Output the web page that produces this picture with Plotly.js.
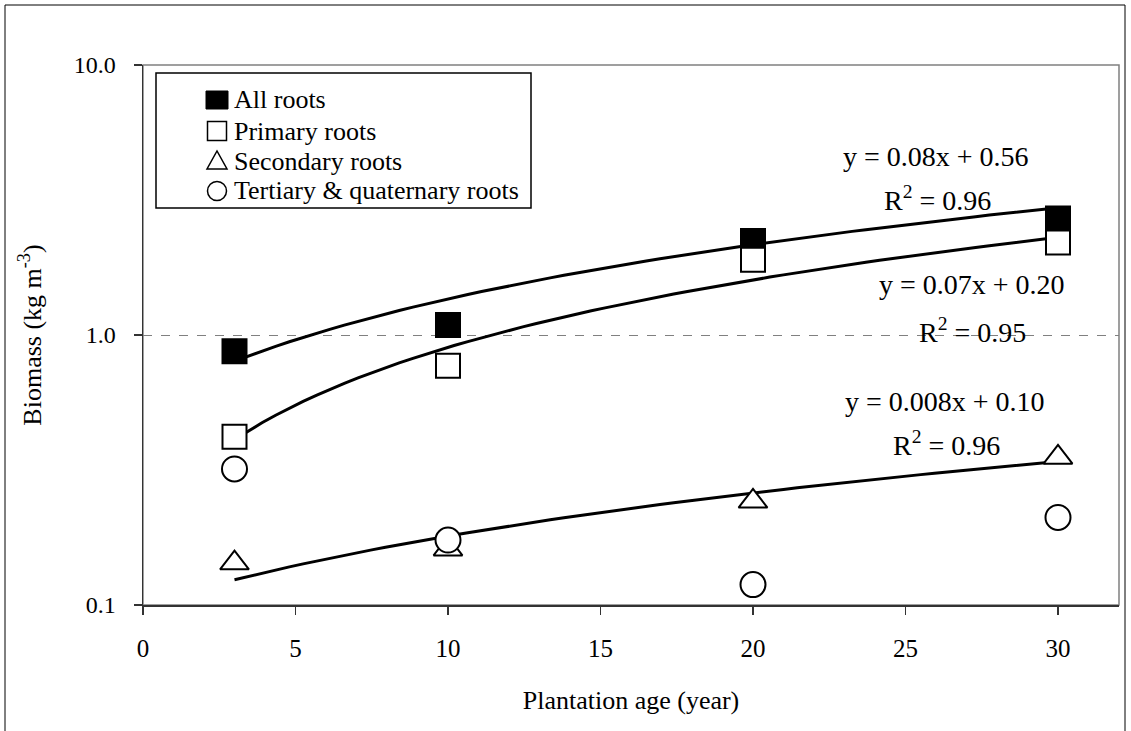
<!DOCTYPE html>
<html><head><meta charset="utf-8">
<script src="https://cdn.plot.ly/plotly-3.0.1.min.js"></script>
<style>html,body{margin:0;padding:0;background:#fff}#chart{width:1131px;height:731px}</style>
</head><body><div id="chart"></div>
<script>
// Data
const ages = [3, 10, 20, 30];
const allRoots = [0.87, 1.09, 2.23, 2.70];
const primaryRoots = [0.42, 0.77, 1.90, 2.20];
const secondaryRoots = [0.143, 0.161, 0.242, 0.352];
const tertiaryRoots = [0.319, 0.174, 0.119, 0.211];
const seriesNames = ["All roots", "Primary roots", "Secondary roots", "Tertiary &amp; quaternary roots"];

// Linear trendlines shown on the chart (y = a x + b)
const trendSlopes = [0.08, 0.07, 0.008];
const trendIntercepts = [0.56, 0.20, 0.10];
const trendR2 = [0.96, 0.95, 0.96];
const trendLabels = ["y = 0.08x + 0.56", "y = 0.07x + 0.20", "y = 0.008x + 0.10"];
const trendStart = 3, trendEnd = 30;

const xTicks = [0, 5, 10, 15, 20, 25, 30];
const yTicks = [0.1, 1, 10];
const yTickText = ["0.1", "1.0", "10.0"];

const FONT = "Liberation Serif";

function trendLine(a, b) {
  const xs = [], ys = [];
  const n = 60;
  for (let i = 0; i <= n; i++) {
    const x = trendStart + (trendEnd - trendStart) * i / n;
    xs.push(x); ys.push(a * x + b);
  }
  return {x: xs, y: ys};
}

const traces = [];
for (let k = 0; k < trendSlopes.length; k++) {
  const t = trendLine(trendSlopes[k], trendIntercepts[k]);
  traces.push({x: t.x, y: t.y, type: "scatter", mode: "lines",
    line: {color: "#000", width: 3}, showlegend: false, hoverinfo: "skip"});
}
const markerDefs = [
  {data: allRoots, symbol: "square", size: 24, fill: "#000"},
  {data: primaryRoots, symbol: "square", size: 24, fill: "#fff"},
  {data: secondaryRoots, symbol: "triangle-up", size: 25, fill: "#fff"},
  {data: tertiaryRoots, symbol: "circle", size: 25, fill: "#fff"}
];
markerDefs.forEach((m, i) => {
  traces.push({x: ages, y: m.data, type: "scatter", mode: "markers", name: seriesNames[i],
    showlegend: false,
    marker: {symbol: m.symbol, size: m.size, color: m.fill, line: {color: "#000", width: 2}}});
});

// pixel -> paper conversion for the plot area (x 143..1119, y 65..605)
function px2x(px) { return (px - 143) / 976; }
function px2y(py) { return (605 - py) / 540; }

const annFont = {family: FONT, size: 28, color: "#000"};
const legFont = {family: FONT, size: 26, color: "#000"};
const annPos = [[936, 156], [937, 198], [972, 284], [972, 330], [945, 401], [946, 443]];
const annotations = [];
for (let k = 0; k < 3; k++) {
  annotations.push({xref: "paper", yref: "paper", x: px2x(annPos[2*k][0]), y: px2y(annPos[2*k][1]),
    xanchor: "center", yanchor: "middle",
    text: trendLabels[k], showarrow: false, font: annFont});
  annotations.push({xref: "paper", yref: "paper", x: px2x(annPos[2*k+1][0]), y: px2y(annPos[2*k+1][1]),
    xanchor: "center", yanchor: "middle",
    text: "R<sup>2</sup> = " + trendR2[k].toFixed(2), showarrow: false, font: annFont});
}

// Legend box (drawn as shapes + text)
const legendRows = [100, 131, 161, 191];
const legSymX = 217, legTextX = 232, legHalf = 9.5;
const shapes = [
  {type: "rect", xref: "paper", yref: "paper", x0: 0, x1: 1, y0: 0, y1: 1,
    line: {color: "#808080", width: 1.5}, layer: "below"},
  {type: "rect", xref: "paper", yref: "paper", x0: px2x(5), x1: px2x(1125), y0: px2y(735), y1: px2y(5),
    line: {color: "#000", width: 1}, layer: "below"},
  {type: "rect", xref: "paper", yref: "paper", x0: px2x(156), x1: px2x(531), y0: px2y(208), y1: px2y(73),
    line: {color: "#000", width: 1.5}, fillcolor: "#fff", layer: "above"}
];
// filled square
shapes.push({type: "rect", xref: "paper", yref: "paper",
  x0: px2x(legSymX - 11), x1: px2x(legSymX + 11), y0: px2y(legendRows[0] + 9), y1: px2y(legendRows[0] - 9),
  line: {color: "#000", width: 1}, fillcolor: "#000", layer: "above"});
// open square
shapes.push({type: "rect", xref: "paper", yref: "paper",
  x0: px2x(legSymX - legHalf), x1: px2x(legSymX + legHalf), y0: px2y(legendRows[1] + legHalf), y1: px2y(legendRows[1] - legHalf),
  line: {color: "#000", width: 1.5}, fillcolor: "#fff", layer: "above"});
// open triangle
(function () {
  const cy = legendRows[2];
  const p = [[legSymX - 10, cy + 8], [legSymX + 10, cy + 8], [legSymX, cy - 10]];
  const path = "M" + p.map(q => px2x(q[0]) + "," + px2y(q[1])).join(" L") + " Z";
  shapes.push({type: "path", xref: "paper", yref: "paper", path: path,
    line: {color: "#000", width: 1.5}, fillcolor: "#fff", layer: "above"});
})();
// open circle
shapes.push({type: "circle", xref: "paper", yref: "paper",
  x0: px2x(legSymX - legHalf), x1: px2x(legSymX + legHalf), y0: px2y(legendRows[3] + legHalf), y1: px2y(legendRows[3] - legHalf),
  line: {color: "#000", width: 1.5}, fillcolor: "#fff", layer: "above"});

seriesNames.forEach((name, i) => {
  annotations.push({xref: "paper", yref: "paper", x: px2x(legTextX), y: px2y(legendRows[i]),
    xanchor: "left", yanchor: "middle", text: name, showarrow: false, font: legFont});
});

const layout = {
  width: 1131, height: 731,
  margin: {l: 143, r: 12, t: 65, b: 126},
  paper_bgcolor: "#fff", plot_bgcolor: "#fff",
  font: {family: FONT, size: 26, color: "#000"},
  showlegend: false,
  xaxis: {range: [0, 32], tickvals: xTicks, ticktext: xTicks.map(String),
    showgrid: false, zeroline: false, showline: true, linecolor: "#333", linewidth: 1.5,
    ticks: "outside", ticklen: 8, tickcolor: "#333", tickwidth: 1.5, ticklabelstandoff: 12,
    tickfont: {family: FONT, size: 25, color: "#000"},
    title: {text: "Plantation age (year)", font: {family: FONT, size: 26, color: "#000"}, standoff: 30},
    automargin: false},
  yaxis: {type: "log", range: [-1, 1], tickvals: yTicks, ticktext: yTickText,
    showgrid: true, gridcolor: "#808080", griddash: "dash", gridwidth: 1,
    zeroline: false, showline: true, linecolor: "#333", linewidth: 1.5,
    ticks: "outside", ticklen: 8, tickcolor: "#333", tickwidth: 1.5, ticklabelstandoff: 13,
    tickfont: {family: FONT, size: 24, color: "#000"},
    title: {text: "Biomass (kg m<sup>-3</sup>)", font: {family: FONT, size: 26, color: "#000"}, standoff: 24},
    automargin: false},
  shapes: shapes,
  annotations: annotations
};

Plotly.newPlot("chart", traces, layout, {staticPlot: true, displayModeBar: false});
</script>
</body></html>
